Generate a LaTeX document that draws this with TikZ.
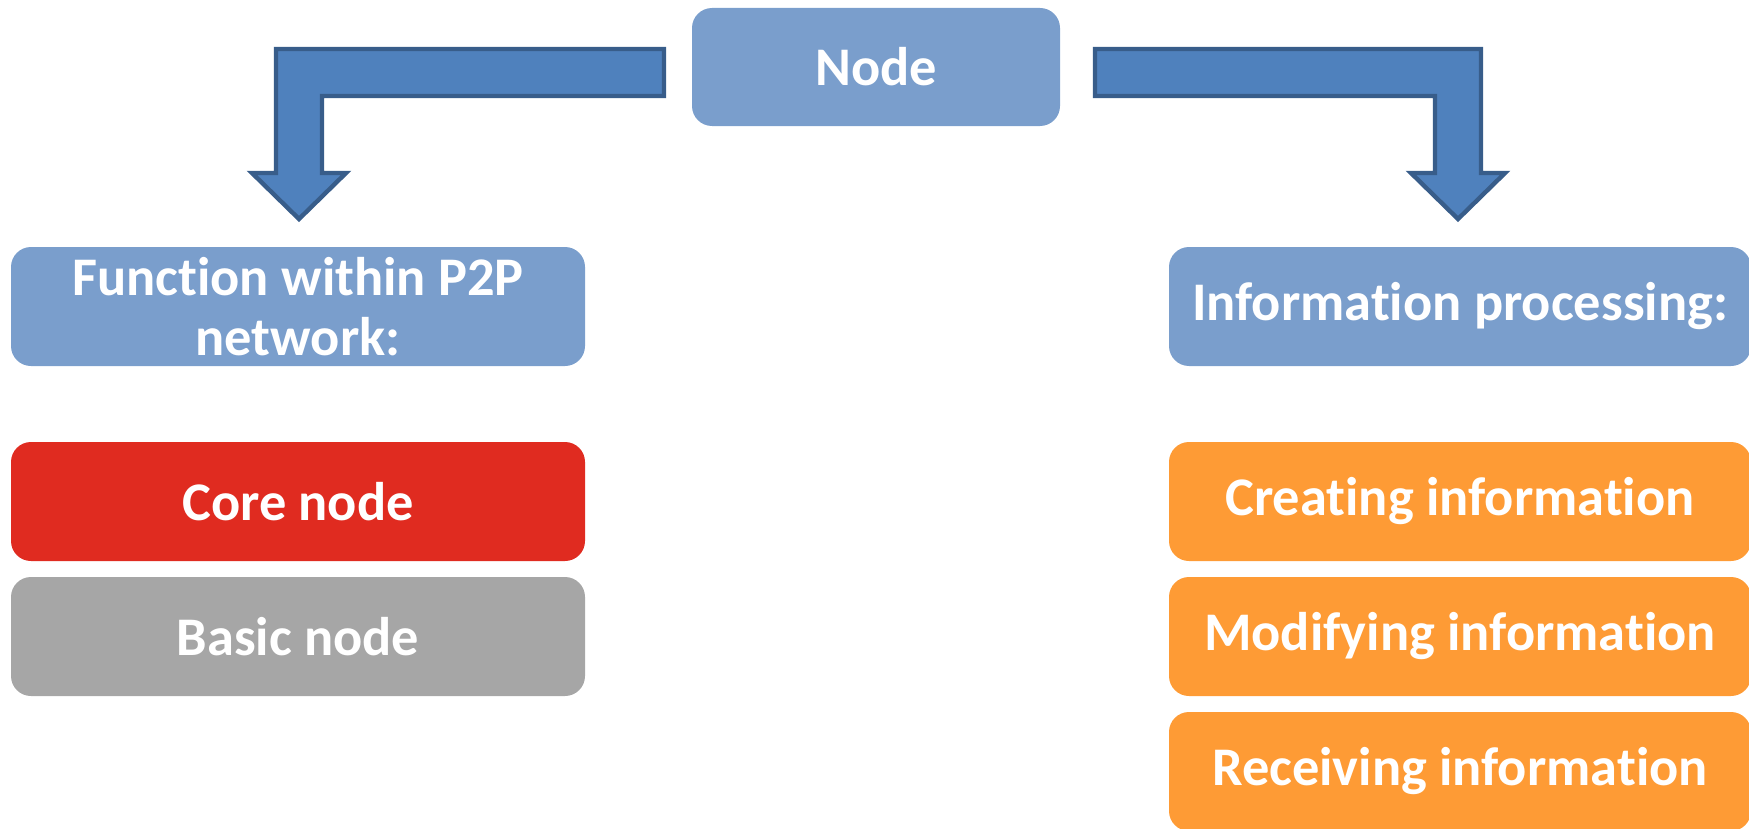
\documentclass[tikz,border=0pt]{standalone}
\usepackage{fontspec}
\setmainfont{Carlito}[Ligatures=NoCommon]
\definecolor{boxblue}{RGB}{122,158,204}
\definecolor{arrfill}{RGB}{79,129,189}
\definecolor{arrline}{RGB}{56,93,138}
\definecolor{corered}{RGB}{224,43,32}
\definecolor{basicgray}{RGB}{166,166,166}
\definecolor{infoorange}{RGB}{254,155,53}
\tikzset{
  box/.style={rounded corners=10pt, text=white, inner sep=0pt, align=center,
    font=\fontsize{27.2}{30}\selectfont\bfseries, minimum height=59.5pt},
  sidebox/.style={box, minimum width=287pt},
  bentarrow/.style={fill=arrfill, draw=arrline, line width=2.2pt, line join=miter},
}
\begin{document}
\begin{tikzpicture}[x=0.5pt,y=-0.5pt]
\useasboundingbox (0,0) rectangle (1749,829);
% top node
\node[box, fill=boxblue, minimum width=184pt, minimum height=59pt] (node) at (876,67) {Node};
% left column
\node[sidebox, fill=boxblue] (func) at (298,306.5) {Function within P2P\\network:};
\node[sidebox, fill=corered] (core) at (298,501.5) {Core node};
\node[sidebox, fill=basicgray] (basic) at (298,636.5) {Basic node};
% right column
\node[sidebox, fill=boxblue, minimum width=291pt] (info) at (1460,306.5) {Information processing:};
\node[sidebox, fill=infoorange, minimum width=291pt] (create) at (1460,501.5) {Creating information};
\node[sidebox, fill=infoorange, minimum width=291pt] (modify) at (1460,636.5) {Modifying information};
\node[sidebox, fill=infoorange, minimum width=291pt] (receive) at (1460,771.5) {Receiving information};
% left bent arrow (Node -> Function)
\coordinate (la) at (664,49);
\coordinate (lb) at (664,96);
\draw[bentarrow] (la) -- (276,49) -- (276,173) -- (252,173) -- (299,219) -- (346,173)
  -- (322,173) -- (322,96) -- (lb) -- cycle;
% right bent arrow (Node -> Information processing)
\coordinate (ra) at (1095,49);
\coordinate (rb) at (1095,96);
\draw[bentarrow] (ra) -- (1481,49) -- (1481,173) -- (1505,173) -- (1458,219) -- (1411,173)
  -- (1435,173) -- (1435,96) -- (rb) -- cycle;
\end{tikzpicture}
\end{document}
